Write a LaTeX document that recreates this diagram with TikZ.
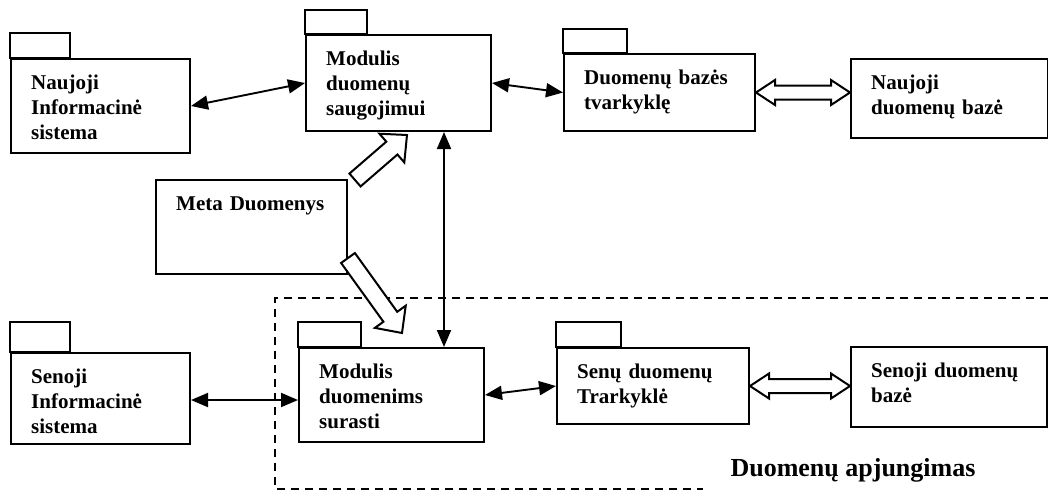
\documentclass[tikz,border=0pt]{standalone}
\usepackage{fontspec}
\setmainfont{Liberation Serif}
\usetikzlibrary{arrows.meta,calc}

% open block arrow, tail #1 to tip #2
\newcommand\hollowarrow[2]{%
  \draw[hollow] let \p1=($(#2)-(#1)$), \n1={atan2(\y1,\x1)} in
    ($(#1)+(\n1+90:8.5pt)$) -- ($(#2)+(\n1:-20pt)+(\n1+90:8.5pt)$)
    -- ($(#2)+(\n1:-20pt)+(\n1+90:19pt)$) -- (#2)
    -- ($(#2)+(\n1:-20pt)+(\n1-90:19pt)$) -- ($(#2)+(\n1:-20pt)+(\n1-90:8.5pt)$)
    -- ($(#1)+(\n1-90:8.5pt)$) -- cycle;}
% open block arrow with a head at both ends
\newcommand\hollowdouble[2]{%
  \draw[hollow] let \p1=($(#2)-(#1)$), \n1={atan2(\y1,\x1)} in
    (#1) -- ($(#1)+(\n1:19pt)+(\n1+90:12.5pt)$) -- ($(#1)+(\n1:19pt)+(\n1+90:7pt)$)
    -- ($(#2)+(\n1:-19pt)+(\n1+90:7pt)$) -- ($(#2)+(\n1:-19pt)+(\n1+90:12.5pt)$)
    -- (#2) -- ($(#2)+(\n1:-19pt)+(\n1-90:12.5pt)$) -- ($(#2)+(\n1:-19pt)+(\n1-90:7pt)$)
    -- ($(#1)+(\n1:19pt)+(\n1-90:7pt)$) -- ($(#1)+(\n1:19pt)+(\n1-90:12.5pt)$) -- cycle;}

\begin{document}
\begin{tikzpicture}[x=1pt, y=-1pt, font=\fontsize{21}{25}\selectfont\bfseries,
    box/.style={draw, line width=2pt, anchor=north west, inner sep=0pt},
    txt/.style={anchor=base west, align=left, text width=180pt, inner sep=0pt},
    link/.style={line width=1.9pt, {Triangle[length=17pt,width=14pt]}-{Triangle[length=17pt,width=14pt]}},
    hollow/.style={draw, line width=2pt, fill=white, line join=miter},
    groupline/.style={line width=2pt, dash pattern=on 8pt off 6pt}]
  \useasboundingbox (0,0) rectangle (1048,491);

  % packages and stores
  \node[box, minimum width=179pt, minimum height=94pt] (nis) at (10,58) {};
  \node[box, minimum width=185pt, minimum height=96pt] (mds) at (305,34) {};
  \node[box, minimum width=191pt, minimum height=77pt] (dbt) at (563,53) {};
  \node[box, minimum width=197pt, minimum height=79pt] (ndb) at (850,58) {};
  \node[box, minimum width=191pt, minimum height=94pt] (meta) at (155,179) {};
  \node[box, minimum width=179pt, minimum height=91pt] (sis) at (10,352) {};
  \node[box, minimum width=185pt, minimum height=94pt] (sur) at (298,347) {};
  \node[box, minimum width=192pt, minimum height=76pt] (sdt) at (556,347) {};
  \node[box, minimum width=196pt, minimum height=80pt] (sdb) at (850,346) {};

  \foreach \p/\w/\h in {nis/60/25, mds/62/24, dbt/64/24, sis/60/30, sur/63/25, sdt/65/25}
    \draw[line width=2pt] (\p.north west) rectangle ++(\w,-\h);

  \node[txt] (nist) at ([shift={(21,31)}]nis.north west) {Naujoji\\Informacinė\\sistema};
  \node[txt] (mdst) at ([shift={(21,31)}]mds.north west) {Modulis\\duomenų\\saugojimui};
  \node[txt] (dbtt) at ([shift={(21,31)}]dbt.north west) {Duomenų bazės\\tvarkyklę};
  \node[txt] (ndbt) at ([shift={(21,31)}]ndb.north west) {Naujoji\\duomenų bazė};
  \node[txt] (metat) at ([shift={(21,31)}]meta.north west) {Meta Duomenys};
  \node[txt] (sist) at ([shift={(21,31)}]sis.north west) {Senoji\\Informacinė\\sistema};
  \node[txt] (surt) at ([shift={(21,31)}]sur.north west) {Modulis\\duomenims\\surasti};
  \node[txt] (sdtt) at ([shift={(21,31)}]sdt.north west) {Senų duomenų\\Trarkyklė};
  \node[txt] (sdbt) at ([shift={(21,31)}]sdb.north west) {Senoji duomenų\\bazė};

  % dashed group
  \draw[groupline] (1048,298) -- (275,298) -- (275,489) -- (703,489);
  \node[anchor=base west, font=\fontsize{26}{30}\selectfont\bfseries] (apj) at (727,476) {Duomenų apjungimas};

  % links
  \draw[link] (nis.east) -- (mds.west);
  \draw[link] (mds.east) -- (dbt.west);
  \draw[link] ([xshift=45.5pt]mds.south) -- ([xshift=45.5pt]mds.south |- sur.north);
  \draw[link] ([yshift=-1.5pt]sis.east) -- ([yshift=-1.5pt]sis.east -| sur.west);
  \draw[link] (sur.east) -- (sdt.west);

  \coordinate (dbin) at (dbt.east -| ndb.west);
  \coordinate (sdin) at (sdt.east -| sdb.west);
  \hollowdouble{dbt.east}{dbin}
  \hollowdouble{sdt.east}{sdin}

  \coordinate (mt1) at ([shift={(7,1)}]meta.north east);
  \coordinate (mh1) at ([shift={(102,3)}]mds.south west);
  \coordinate (mt2) at ([shift={(0,-17)}]meta.south east);
  \coordinate (mh2) at ([shift={(104,-14)}]sur.north west);
  \hollowarrow{mt1}{mh1}
  \hollowarrow{mt2}{mh2}
\end{tikzpicture}
\end{document}
